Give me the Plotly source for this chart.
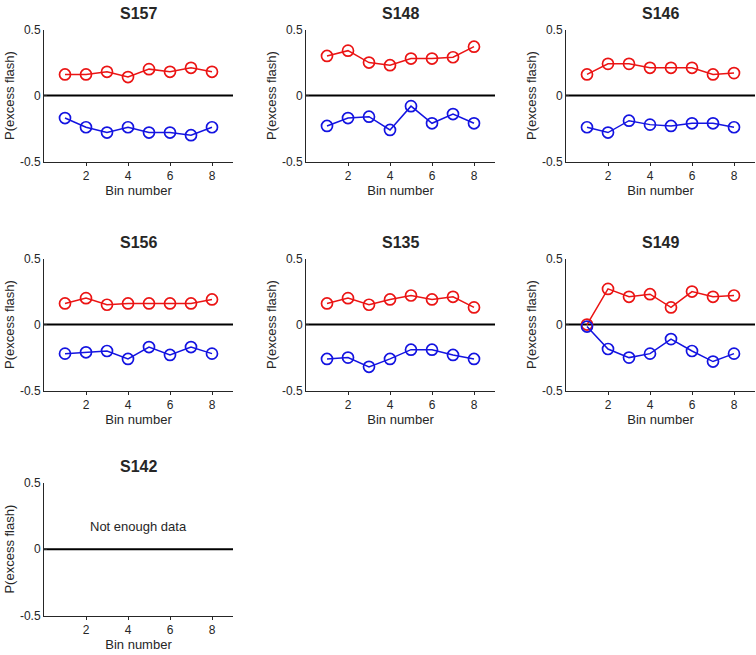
import plotly.graph_objects as go

W, H = 756, 655

subjects = ["S157", "S148", "S146", "S156", "S135", "S149", "S142"]
bins = [1, 2, 3, 4, 5, 6, 7, 8]

red_vals = {
    "S157": [0.16, 0.16, 0.18, 0.14, 0.20, 0.18, 0.21, 0.18],
    "S148": [0.30, 0.34, 0.25, 0.23, 0.28, 0.28, 0.29, 0.37],
    "S146": [0.16, 0.24, 0.24, 0.21, 0.21, 0.21, 0.16, 0.17],
    "S156": [0.16, 0.20, 0.15, 0.16, 0.16, 0.16, 0.16, 0.19],
    "S135": [0.16, 0.20, 0.15, 0.19, 0.22, 0.19, 0.21, 0.13],
    "S149": [0.00, 0.27, 0.21, 0.23, 0.13, 0.25, 0.21, 0.22],
    "S142": [],
}
blue_vals = {
    "S157": [-0.17, -0.24, -0.28, -0.24, -0.28, -0.28, -0.30, -0.24],
    "S148": [-0.23, -0.17, -0.16, -0.26, -0.08, -0.21, -0.14, -0.21],
    "S146": [-0.24, -0.28, -0.19, -0.22, -0.23, -0.21, -0.21, -0.24],
    "S156": [-0.22, -0.21, -0.20, -0.26, -0.17, -0.23, -0.17, -0.22],
    "S135": [-0.26, -0.25, -0.32, -0.26, -0.19, -0.19, -0.23, -0.26],
    "S149": [-0.015, -0.185, -0.25, -0.22, -0.11, -0.20, -0.28, -0.22],
    "S142": [],
}

x_ticks = [2, 4, 6, 8]
y_ticks = [-0.5, 0, 0.5]
y_tick_text = ["-0.5", "0", "0.5"]

# pixel geometry of panels
col_px = [(44, 233), (306, 495), (566, 755)]
row_px = [(23, 158), (257, 392), (486, 622)]

RED = "rgb(235,20,20)"
BLUE = "rgb(20,20,225)"
FONT = "Liberation Sans, Arial, Helvetica, sans-serif"

fig = go.Figure()
annotations = []
shapes = []

for i, s in enumerate(subjects):
    r, c = divmod(i, 3)
    n = i + 1
    xa = "x" if n == 1 else f"x{n}"
    ya = "y" if n == 1 else f"y{n}"
    xkey = "xaxis" if n == 1 else f"xaxis{n}"
    ykey = "yaxis" if n == 1 else f"yaxis{n}"
    x0, x1 = col_px[c]
    y0, y1 = row_px[r]
    xd = [x0 / W, x1 / W]
    yd = [1 - y1 / H, 1 - y0 / H]

    fig.update_layout(**{
        xkey: dict(domain=xd, anchor=ya, range=[0, 9], tickvals=x_ticks,
                   showgrid=False, zeroline=False, showline=True,
                   linecolor="#262626", linewidth=1, ticks="outside", ticklen=3,
                   tickcolor="#262626", tickfont=dict(size=12, color="#262626", family=FONT),
                   title=dict(text="Bin number", font=dict(size=13, color="#262626", family=FONT), standoff=3)),
        ykey: dict(domain=yd, anchor=xa, range=[-0.5, 0.5], tickvals=y_ticks, ticktext=y_tick_text,
                   showgrid=False, zeroline=False, showline=True,
                   linecolor="#262626", linewidth=1, ticks="inside", ticklen=3,
                   tickcolor="#262626", tickfont=dict(size=12, color="#262626", family=FONT),
                   title=dict(text="P(excess flash)", font=dict(size=13, color="#262626", family=FONT), standoff=2)),
    })

    shapes.append(dict(type="line", xref=f"{xa} domain", yref=ya, x0=0, x1=1, y0=0, y1=0,
                       line=dict(color="black", width=2), layer="below"))

    if red_vals[s]:
        fig.add_trace(go.Scatter(x=bins, y=red_vals[s], xaxis=xa, yaxis=ya, mode="lines+markers",
                                 line=dict(color=RED, width=1.5),
                                 marker=dict(symbol="circle-open", size=11, color=RED, line=dict(width=1.7)),
                                 showlegend=False, hoverinfo="skip"))
        fig.add_trace(go.Scatter(x=bins, y=blue_vals[s], xaxis=xa, yaxis=ya, mode="lines+markers",
                                 line=dict(color=BLUE, width=1.5),
                                 marker=dict(symbol="circle-open", size=11, color=BLUE, line=dict(width=1.7)),
                                 showlegend=False, hoverinfo="skip"))
    else:
        fig.add_trace(go.Scatter(x=[None], y=[None], xaxis=xa, yaxis=ya, showlegend=False))
        annotations.append(dict(text="Not enough data", xref=xa, yref=ya, x=4.5, y=0.17,
                                showarrow=False, font=dict(size=13, color="#262626", family=FONT)))

    annotations.append(dict(text=f"<b>{s}</b>", xref="paper", yref="paper",
                            x=(x0 + x1) / 2 / W, y=1 - (y0 - 6) / H, xanchor="center", yanchor="bottom",
                            showarrow=False, font=dict(size=16, color="#262626", family=FONT)))

fig.update_layout(width=W, height=H, margin=dict(l=0, r=0, t=0, b=0),
                  paper_bgcolor="white", plot_bgcolor="white",
                  annotations=annotations, shapes=shapes)

post = ("document.body.style.margin='0';document.body.style.padding='0';"
        "document.body.style.overflow='hidden';"
        "var d=document.getElementById('{plot_id}');"
        "d.style.position='absolute';d.style.left='0px';d.style.top='0px';")

fig.write_html("out.html", post_script=post, config={"displayModeBar": False})
